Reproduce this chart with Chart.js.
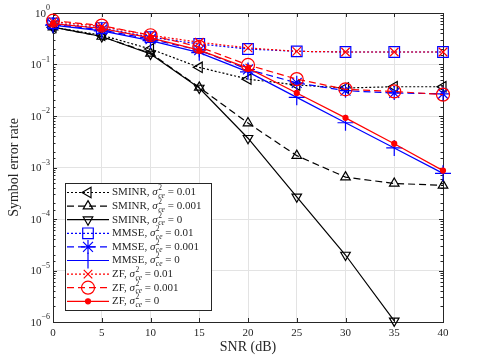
<!DOCTYPE html>
<html>
<head>
<meta charset="utf-8">
<script src="https://cdn.jsdelivr.net/npm/chart.js@4.4.1/dist/chart.umd.min.js"></script>
<style>
body { margin: 0; background: #fff; }
</style>
</head>
<body>
<canvas id="serChart" width="483" height="362"></canvas>
<script>
// SNR values (dB)
var snr = [0, 5, 10, 15, 20, 25, 30, 35, 40];

// symbol error rate
var sminr001  = [0.53, 0.37, 0.20, 0.088, 0.052, 0.040, 0.035, 0.037, 0.037];
var sminr0001 = [0.53, 0.35, 0.165, 0.036, 0.0073, 0.0017, 0.00065, 0.00049, 0.00045];
var sminr0    = [0.53, 0.35, 0.16, 0.035, 0.0037, 0.00027, 0.00002, 0.00000105, null];
var mmse001   = [0.63, 0.51, 0.34, 0.25, 0.20, 0.18, 0.175, 0.175, 0.175];
var mmse0001  = [0.60, 0.47, 0.31, 0.19, 0.080, 0.044, 0.031, 0.028, 0.027];
var mmse0     = [0.58, 0.45, 0.29, 0.17, 0.072, 0.023, 0.0074, 0.0024, 0.00077];
var zf001     = [0.68, 0.55, 0.37, 0.27, 0.21, 0.18, 0.175, 0.175, 0.175];
var zf0001    = [0.71, 0.57, 0.37, 0.22, 0.098, 0.052, 0.033, 0.030, 0.026];
var zf0       = [0.62, 0.50, 0.33, 0.19, 0.085, 0.028, 0.0092, 0.0029, 0.00087];

var schemes = ['SMINR', 'SMINR', 'SMINR', 'MMSE', 'MMSE', 'MMSE', 'ZF', 'ZF', 'ZF'];
var errVars = ['0.01', '0.001', '0', '0.01', '0.001', '0', '0.01', '0.001', '0'];
var yExponents = [0, -1, -2, -3, -4, -5, -6];

var series = [sminr001, sminr0001, sminr0, mmse001, mmse0001, mmse0, zf001, zf0001, zf0];

var DOT = [2, 2];
var DASH = [7, 4];
var looks = [
    { color: '#000000', dash: DOT,  style: 'triangle', rot: -90, r: 6,   fill: 'rgba(0,0,0,0)' },
    { color: '#000000', dash: DASH, style: 'triangle', rot: 0,   r: 5.5, fill: 'rgba(0,0,0,0)' },
    { color: '#000000', dash: [],   style: 'triangle', rot: 180, r: 5.5, fill: 'rgba(0,0,0,0)' },
    { color: '#0000ff', dash: DOT,  style: 'rect',     rot: 0,   r: 7.5, fill: 'rgba(0,0,0,0)' },
    { color: '#0000ff', dash: DASH, style: 'star',     rot: 0,   r: 7,   fill: 'rgba(0,0,0,0)' },
    { color: '#0000ff', dash: [],   style: 'cross',    rot: 0,   r: 8,   fill: 'rgba(0,0,0,0)' },
    { color: '#ff0000', dash: DOT,  style: 'crossRot', rot: 0,   r: 6,   fill: 'rgba(0,0,0,0)' },
    { color: '#ff0000', dash: DASH, style: 'circle',   rot: 0,   r: 6.5, fill: 'rgba(0,0,0,0)' },
    { color: '#ff0000', dash: [],   style: 'circle',   rot: 0,   r: 2.5, fill: '#ff0000' }
];

var SERIF = "'Liberation Serif', 'DejaVu Serif', serif";
var AXIS_COLOR = '#262626';

var datasets = series.map(function (vals, i) {
    var lk = looks[i];
    return {
        label: schemes[i] + ', \u03c3\u00b2ce = ' + errVars[i],
        data: snr.map(function (x, j) { return { x: x, y: vals[j] }; }),
        borderColor: lk.color,
        borderWidth: 1.2,
        borderDash: lk.dash,
        pointStyle: lk.style,
        pointRotation: lk.rot,
        pointRadius: lk.r,
        pointBorderWidth: 1.2,
        pointBorderColor: lk.color,
        pointBackgroundColor: lk.fill,
        tension: 0,
        spanGaps: false,
        clip: false,
        order: series.length - i
    };
});

function isDecade(v) {
    var l = Math.log10(v);
    return Math.abs(l - Math.round(l)) < 1e-6;
}

// axes box, inward tick marks and LaTeX-style y labels
var axesPlugin = {
    id: 'axesPlugin',
    beforeDatasetsDraw: function (chart) {
        var ctx = chart.ctx, a = chart.chartArea;
        var xs = chart.scales.x, ys = chart.scales.y;
        ctx.save();
        ctx.strokeStyle = AXIS_COLOR;
        ctx.lineWidth = 1;
        ctx.setLineDash([]);
        ctx.beginPath();
        xs.ticks.forEach(function (t) {
            var px = Math.round(xs.getPixelForValue(t.value)) + 0.5;
            ctx.moveTo(px, a.bottom); ctx.lineTo(px, a.bottom - 4);
            ctx.moveTo(px, a.top); ctx.lineTo(px, a.top + 4);
        });
        ys.ticks.forEach(function (t) {
            var py = Math.round(ys.getPixelForValue(t.value)) + 0.5;
            var len = isDecade(t.value) ? 4 : 2.5;
            ctx.moveTo(a.left, py); ctx.lineTo(a.left + len, py);
            ctx.moveTo(a.right, py); ctx.lineTo(a.right - len, py);
        });
        ctx.stroke();
        ctx.strokeRect(Math.round(a.left) + 0.5, Math.round(a.top) + 0.5,
            Math.round(a.right - a.left), Math.round(a.bottom - a.top));

        // y tick labels 10^n
        ctx.fillStyle = AXIS_COLOR;
        ctx.textBaseline = 'middle';
        yExponents.forEach(function (e) {
            var py = ys.getPixelForValue(Math.pow(10, e));
            var expText = e === 0 ? '0' : '\u2212' + (-e);
            ctx.font = '8px ' + SERIF;
            var ew = ctx.measureText(expText).width;
            var right = a.left - 3;
            ctx.textAlign = 'left';
            ctx.fillText(expText, right - ew, py - 5);
            ctx.font = '11px ' + SERIF;
            ctx.textAlign = 'right';
            ctx.fillText('10', right - ew, py + 1);
        });
        ctx.restore();
    },
    afterDraw: function (chart) {
        var ctx = chart.ctx;
        var box = { left: 65, top: 183, right: 211, bottom: 310 };
        ctx.save();
        ctx.fillStyle = '#ffffff';
        ctx.fillRect(box.left, box.top, box.right - box.left, box.bottom - box.top);
        ctx.strokeStyle = AXIS_COLOR;
        ctx.lineWidth = 1;
        ctx.setLineDash([]);
        ctx.strokeRect(box.left + 0.5, box.top + 0.5, box.right - box.left, box.bottom - box.top);

        for (var i = 0; i < series.length; i++) {
            var lk = looks[i];
            var cy = 192.5 + i * 13.6;
            ctx.strokeStyle = lk.color;
            ctx.lineWidth = 1.2;
            ctx.setLineDash(lk.dash);
            ctx.beginPath();
            ctx.moveTo(67, cy);
            ctx.lineTo(109, cy);
            ctx.stroke();
            ctx.setLineDash([]);
            ctx.fillStyle = lk.fill;
            Chart.helpers.drawPoint(ctx, {
                pointStyle: lk.style, rotation: lk.rot, radius: lk.r, borderWidth: 1.2
            }, 88, cy);

            // label: "SMINR, σ²_ce = 0.01"
            ctx.fillStyle = AXIS_COLOR;
            ctx.textAlign = 'left';
            ctx.textBaseline = 'middle';
            var x = 112;
            ctx.font = '11px ' + SERIF;
            var head = schemes[i] + ', ';
            ctx.fillText(head, x, cy);
            x += ctx.measureText(head).width;
            ctx.font = 'italic 11px ' + SERIF;
            ctx.fillText('\u03c3', x, cy);
            x += ctx.measureText('\u03c3').width + 0.5;
            ctx.font = '7.5px ' + SERIF;
            ctx.fillText('2', x, cy - 4);
            ctx.font = 'italic 7.5px ' + SERIF;
            ctx.fillText('ce', x, cy + 3.5);
            x += ctx.measureText('ce').width;
            ctx.font = '11px ' + SERIF;
            ctx.fillText(' = ' + errVars[i], x, cy);
        }
        ctx.restore();
    }
};

var ctx = document.getElementById('serChart').getContext('2d');
var serChart = new Chart(ctx, {
    type: 'line',
    data: { datasets: datasets },
    plugins: [axesPlugin],
    options: {
        responsive: false,
        animation: false,
        events: [],
        layout: { padding: { left: 0, top: 13, right: 40, bottom: 0 } },
        plugins: {
            legend: { display: false },
            tooltip: { enabled: false }
        },
        scales: {
            x: {
                type: 'linear',
                min: 0,
                max: 40,
                afterFit: function (scale) { scale.height = 40; },
                ticks: {
                    stepSize: 5,
                    color: AXIS_COLOR,
                    padding: 5,
                    font: { family: SERIF, size: 11 }
                },
                grid: { color: '#e3e3e3', lineWidth: 1, drawTicks: false },
                border: { display: false },
                title: {
                    display: true,
                    text: 'SNR (dB)',
                    color: AXIS_COLOR,
                    font: { family: SERIF, size: 14 },
                    padding: { top: 6, bottom: 6 }
                }
            },
            y: {
                type: 'logarithmic',
                min: 1e-6,
                max: 1,
                afterFit: function (scale) { scale.width = 53; },
                ticks: { display: false, autoSkip: false },
                grid: {
                    drawTicks: false,
                    lineWidth: 1,
                    color: function (c) {
                        return c.tick && isDecade(c.tick.value) ? '#e3e3e3' : 'rgba(0,0,0,0)';
                    }
                },
                border: { display: false },
                title: {
                    display: true,
                    text: 'Symbol error rate',
                    color: AXIS_COLOR,
                    font: { family: SERIF, size: 14 },
                    padding: { top: 6, bottom: 6 }
                }
            }
        }
    }
});
</script>
</body>
</html>
